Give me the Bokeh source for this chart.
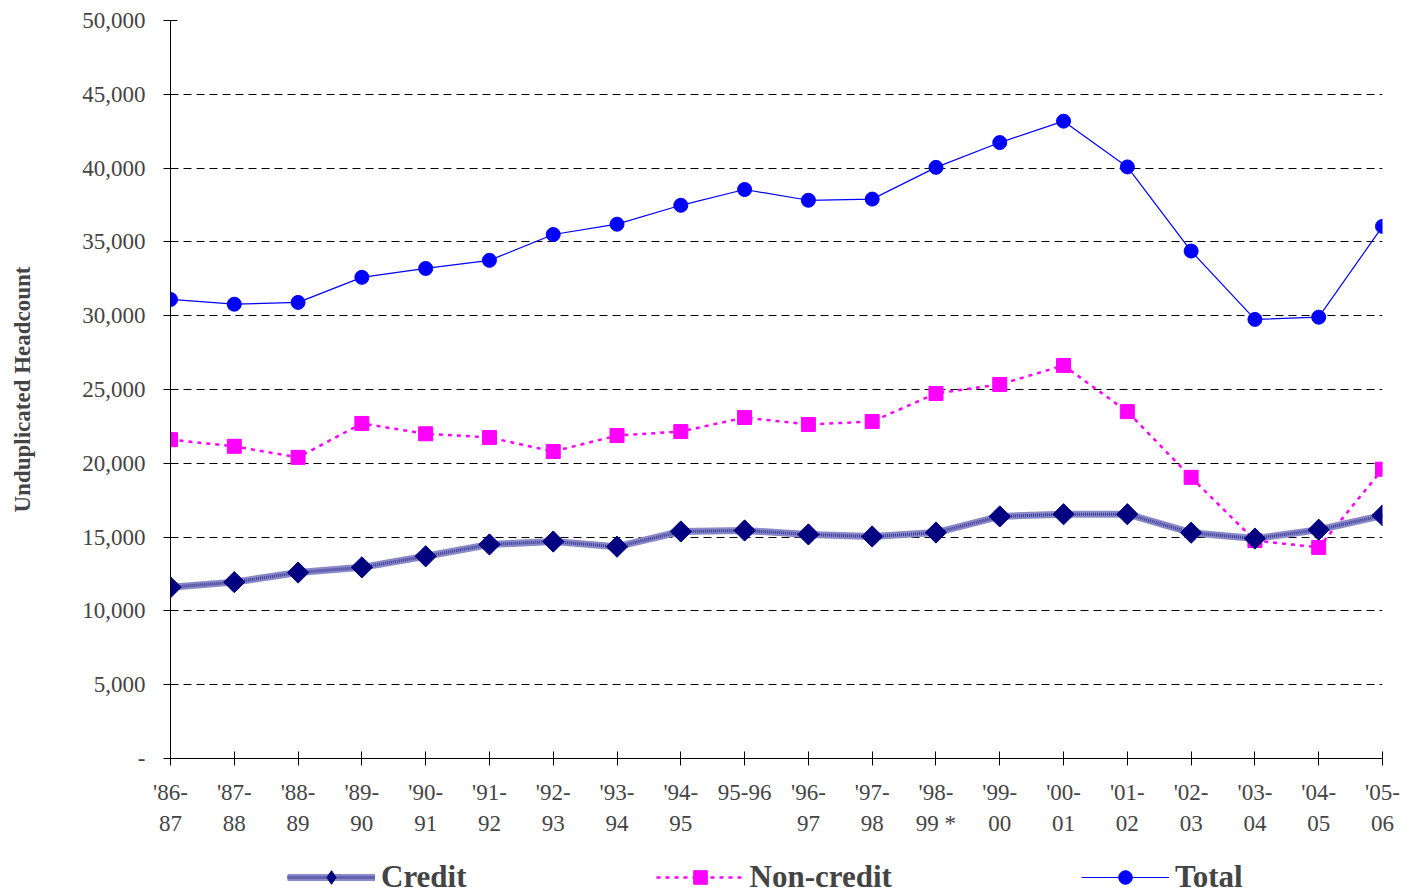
import numpy as np
from bokeh.plotting import figure
from bokeh.layouts import column
from bokeh.models import (Range1d, FixedTicker, NumeralTickFormatter, Legend, LegendItem)
from bokeh.embed import file_html
from bokeh.resources import INLINE

years = ["'86-\n87", "'87-\n88", "'88-\n89", "'89-\n90", "'90-\n91", "'91-\n92", "'92-\n93",
         "'93-\n94", "'94-\n95", "95-96", "'96-\n97", "'97-\n98", "'98-\n99 *", "'99-\n00",
         "'00-\n01", "'01-\n02", "'02-\n03", "'03-\n04", "'04-\n05", "'05-\n06"]

credit = [11600, 11950, 12600, 12950, 13700, 14500, 14700, 14350, 15380, 15450,
          15180, 15040, 15310, 16400, 16550, 16550, 15300, 14900, 15500, 16470]
noncredit = [21600, 21150, 20400, 22700, 22000, 21750, 20800, 21880, 22150, 23100,
             22630, 22830, 24730, 25340, 26630, 23500, 19050, 14770, 14300, 19600]
total = [31100, 30780, 30900, 32600, 33200, 33750, 35500, 36200, 37480, 38550,
         37820, 37900, 40050, 41730, 43180, 40080, 34380, 29750, 29900, 36050]

y_ticks = [0, 5000, 10000, 15000, 20000, 25000, 30000, 35000, 40000, 45000, 50000]
series_names = ["Credit", "Non-credit", "Total"]

x = list(range(len(years)))
FONT = "Liberation Serif"

CREDIT_BAND = "#8a8ac8"
CREDIT_DOTS = "#3a3a9a"
NAVY = "#000080"
MAGENTA = "#ff00ff"
BLUE = "#0000ff"

p = figure(width=1410, height=858, output_backend="svg", toolbar_location=None,
           x_range=Range1d(0, len(years) - 1), y_range=Range1d(0, y_ticks[-1]),
           min_border_left=170, min_border_right=28, min_border_top=20, min_border_bottom=100)
p.outline_line_color = None
p.background_fill_color = "white"
p.border_fill_color = "white"

# grid
p.xgrid.grid_line_color = None
p.ygrid.grid_line_color = "black"
p.ygrid.grid_line_dash = "8 5"
p.ygrid.grid_line_width = 1

# axes
p.xaxis.ticker = FixedTicker(ticks=x)
p.xaxis.major_label_overrides = {i: years[i] for i in x}
p.xaxis.major_label_text_font = FONT
p.xaxis.major_label_text_font_size = "23px"
p.xaxis.major_label_text_line_height = 1.26
p.xaxis.major_label_standoff = 14
p.xaxis.major_tick_in = 7
p.xaxis.major_tick_out = 7
p.xaxis.minor_tick_line_color = None
p.xaxis.axis_line_color = "black"
p.xaxis.major_tick_line_color = "black"

p.yaxis.ticker = FixedTicker(ticks=y_ticks)
p.yaxis.formatter = NumeralTickFormatter(format="0,0")
p.yaxis.major_label_overrides = {0: "-"}
p.yaxis.major_label_text_font = FONT
p.yaxis.major_label_text_font_size = "23px"
p.yaxis.major_label_standoff = 18
p.yaxis.major_tick_in = 7
p.yaxis.major_tick_out = 7
p.yaxis.minor_tick_line_color = None
p.yaxis.axis_line_color = "black"
p.yaxis.major_tick_line_color = "black"
p.yaxis.axis_label = "Unduplicated Headcount"
p.yaxis.axis_label_text_font = FONT
p.yaxis.axis_label_text_font_style = "bold"
p.yaxis.axis_label_text_font_size = "23px"
p.yaxis.axis_label_standoff = 44

# Total
p.line(x, total, line_color=BLUE, line_width=1.2)
p.scatter(x, total, marker="circle", size=14, fill_color=BLUE, line_color=BLUE)

# Non-credit
p.line(x, noncredit, line_color=MAGENTA, line_width=2.5, line_dash="4 5")
p.scatter(x, noncredit, marker="square", size=14, fill_color=MAGENTA, line_color=MAGENTA)

# Credit
p.line(x, credit, line_color=CREDIT_BAND, line_width=7)
p.line(x, credit, line_color=CREDIT_DOTS, line_width=3, line_dash="1 1")
p.scatter(x, credit, marker="square", angle=np.pi / 4, size=15,
          fill_color=NAVY, line_color=NAVY)

# ---- legend strip below the chart (its ranges keep the series out of view;
#      only the legend swatches and labels show) ----
lg = figure(width=1410, height=37, output_backend="svg", toolbar_location=None,
            x_axis_location=None, y_axis_location=None,
            x_range=Range1d(-3, -2), y_range=Range1d(-3, -2),
            min_border_left=0, min_border_right=0, min_border_top=0, min_border_bottom=0)
lg.outline_line_color = None
lg.xgrid.grid_line_color = None
lg.ygrid.grid_line_color = None
lg.border_fill_color = "white"
lg.background_fill_color = "white"

c1 = lg.line(x, credit, line_color=CREDIT_BAND, line_width=7)
c2 = lg.line(x, credit, line_color=CREDIT_DOTS, line_width=3, line_dash="1 1")
c3 = lg.scatter(x, credit, marker="diamond", size=20, fill_color=NAVY, line_color=NAVY)
n1 = lg.line(x, noncredit, line_color=MAGENTA, line_width=2.5, line_dash="4 5")
n2 = lg.scatter(x, noncredit, marker="square", size=14, fill_color=MAGENTA, line_color=MAGENTA)
t1 = lg.line(x, total, line_color=BLUE, line_width=1.2)
t2 = lg.scatter(x, total, marker="circle", size=14, fill_color=BLUE, line_color=BLUE)

legend = Legend(items=[LegendItem(label=series_names[0], renderers=[c1, c2, c3]),
                       LegendItem(label=series_names[1], renderers=[n1, n2]),
                       LegendItem(label=series_names[2], renderers=[t1, t2])],
                orientation="horizontal", location=(117, 0))
legend.spacing = 189
legend.glyph_width = 88
legend.glyph_height = 34
legend.label_standoff = 6
legend.padding = 0
legend.margin = 0
legend.border_line_color = None
legend.background_fill_alpha = 0
legend.label_text_font = FONT
legend.label_text_font_style = "bold"
legend.label_text_font_size = "31px"
legend.label_height = 34
lg.add_layout(legend, "center")

layout = column(p, lg, spacing=0)
open("out.html", "w").write(file_html(layout, INLINE))
